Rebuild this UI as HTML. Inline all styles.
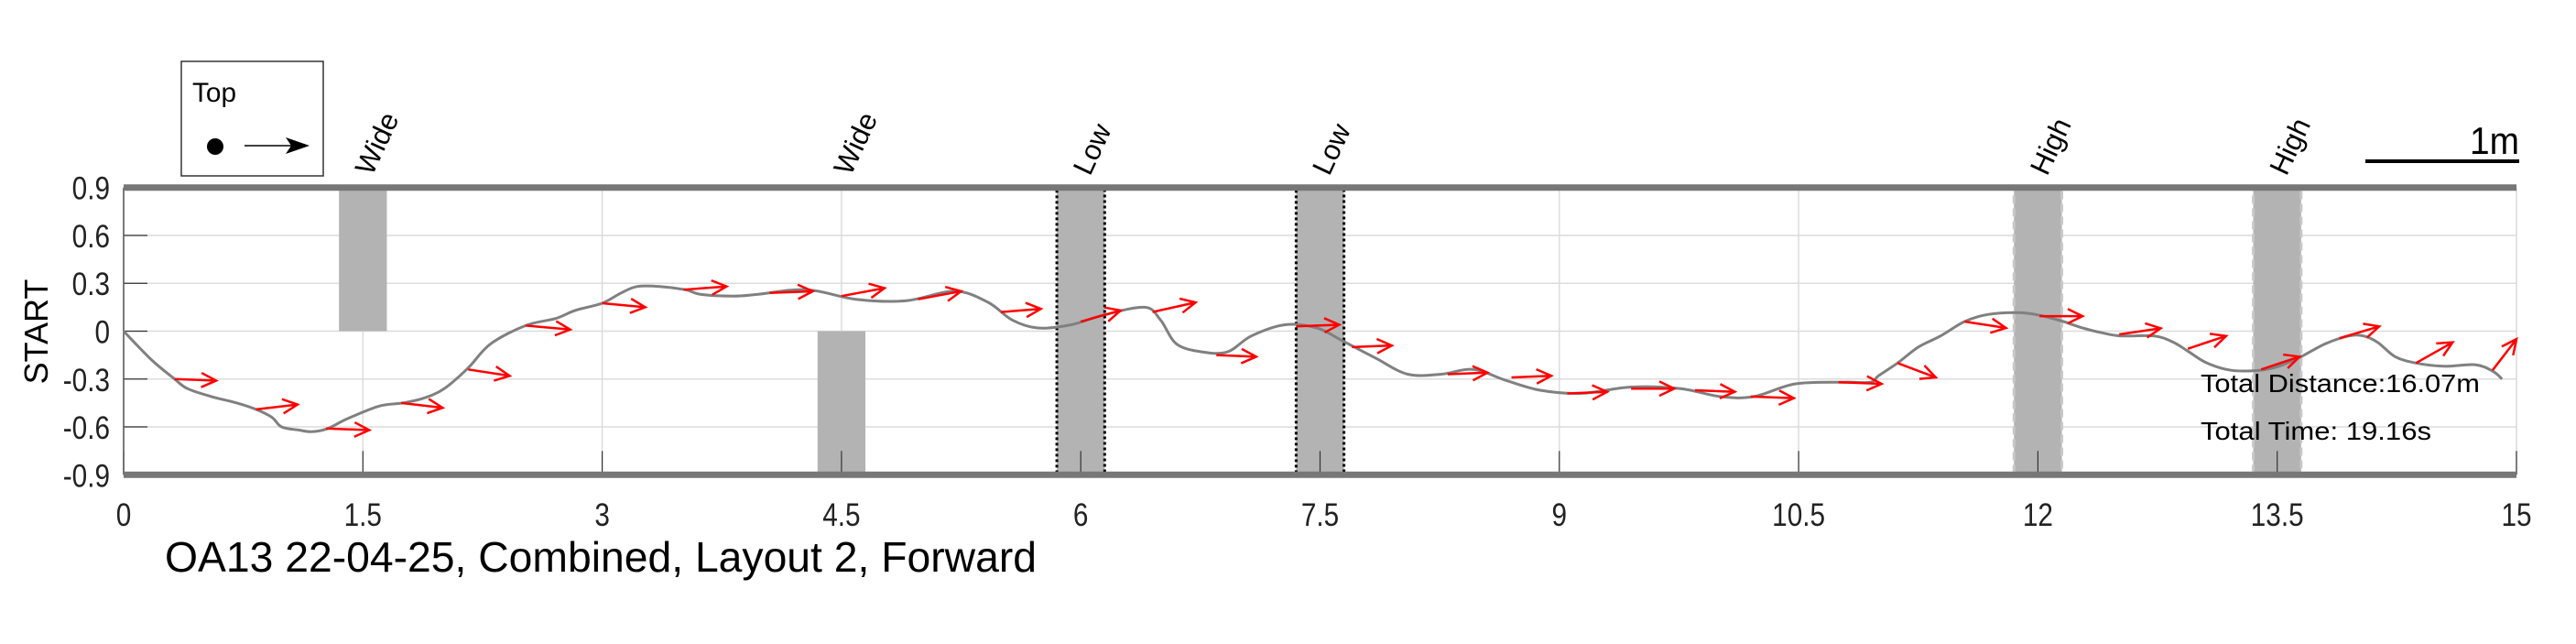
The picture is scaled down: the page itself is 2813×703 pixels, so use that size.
<!DOCTYPE html>
<html><head><meta charset="utf-8"><style>
html,body{margin:0;padding:0;background:#fff;}
svg{display:block;font-family:"Liberation Sans",sans-serif;}
</style></head><body>
<svg id="chart" width="2813" height="703" viewBox="0 0 2813 703" xmlns="http://www.w3.org/2000/svg">
<g id="grid"></g>
<g id="zones"></g>
<g id="axes"></g>
<g id="series"></g>
<g id="arrows"></g>
<text x="0" y="0" transform="translate(52,362) rotate(-90)" font-size="36" text-anchor="middle">START</text>
<text x="180" y="624" font-size="46" textLength="952" lengthAdjust="spacingAndGlyphs">OA13 22-04-25, Combined, Layout 2, Forward</text>
<text x="2403" y="428" font-size="28" textLength="305" lengthAdjust="spacingAndGlyphs">Total Distance:16.07m</text>
<text x="2403" y="480" font-size="28" textLength="252" lengthAdjust="spacingAndGlyphs">Total Time: 19.16s</text>
<g>
<rect x="198" y="67" width="155" height="125" fill="#fff" stroke="#333" stroke-width="1.5"/>
<text x="210" y="111" font-size="30" textLength="48" lengthAdjust="spacingAndGlyphs">Top</text>
<circle cx="235" cy="160" r="9" fill="#000"/>
<line x1="267" y1="159" x2="330" y2="159" stroke="#000" stroke-width="1.5"/>
<path d="M312,150 L338,159 L312,168 L318,159 Z" fill="#000"/>
</g>
<g>
<line x1="2583" y1="176" x2="2751" y2="176" stroke="#000" stroke-width="4"/>
<text x="2751" y="168" font-size="42" text-anchor="end" textLength="54" lengthAdjust="spacingAndGlyphs">1m</text>
</g>
</svg>
<script>
const xTicks = [0, 1.5, 3, 4.5, 6, 7.5, 9, 10.5, 12, 13.5, 15];
const xTickLabels = ["0","1.5","3","4.5","6","7.5","9","10.5","12","13.5","15"];
const yTicks = [0.9, 0.6, 0.3, 0, -0.3, -0.6, -0.9];
const yTickLabels = ["0.9","0.6","0.3","0","-0.3","-0.6","-0.9"];
const zoneNames = ["Wide","Wide","Low","Low","High","High"];
const zoneStart = [1.35, 4.35, 5.85, 7.35, 11.85, 13.35];
const zoneEnd = [1.65, 4.65, 6.15, 7.65, 12.15, 13.65];
const zoneLow = [0, -0.9, -0.9, -0.9, -0.9, -0.9];
const zoneHigh = [0.9, 0, 0.9, 0.9, 0.9, 0.9];
const zoneBorder = ["none","none","dotted","dotted","dashed","dashed"];
const pathX = [0,0.175,0.32,0.40,0.55,0.71,0.83,0.93,0.99,1.1,1.18,1.28,1.4,1.6,1.75,1.88,2.01,2.16,2.3,2.52,2.71,2.83,3.0,3.12,3.22,3.36,3.52,3.62,3.82,3.97,4.28,4.59,4.9,5.21,5.42,5.57,5.73,5.94,6.14,6.4,6.5,6.6,6.76,6.92,7.07,7.28,7.48,7.64,7.85,8.05,8.26,8.46,8.67,8.88,9.14,9.45,9.76,10.01,10.22,10.48,10.79,10.95,11.0,11.12,11.25,11.39,11.54,11.69,11.88,12.01,12.16,12.28,12.4,12.52,12.73,12.85,12.94,13.06,13.21,13.39,13.51,13.64,13.8,13.95,14.04,14.13,14.24,14.37,14.55,14.74,14.85,14.91];
const pathY = [0,-0.18,-0.30,-0.36,-0.41,-0.45,-0.49,-0.54,-0.6,-0.62,-0.63,-0.61,-0.55,-0.47,-0.45,-0.42,-0.36,-0.23,-0.08,0.035,0.08,0.13,0.175,0.24,0.28,0.28,0.26,0.23,0.22,0.23,0.26,0.2,0.19,0.25,0.18,0.07,0.02,0.04,0.10,0.15,0.07,-0.08,-0.13,-0.13,-0.03,0.04,0.02,-0.06,-0.17,-0.27,-0.27,-0.24,-0.31,-0.37,-0.39,-0.35,-0.36,-0.41,-0.41,-0.33,-0.32,-0.32,-0.28,-0.2,-0.1,-0.03,0.06,0.105,0.116,0.1,0.06,0.02,-0.01,-0.03,-0.03,-0.07,-0.125,-0.2,-0.245,-0.245,-0.22,-0.165,-0.08,-0.03,-0.03,-0.07,-0.16,-0.2,-0.22,-0.21,-0.25,-0.3];
const arrowX0 = [0.32,0.83,1.27,1.74,2.16,2.52,3.0,3.51,4.05,4.5,4.98,5.5,6.0,6.45,6.85,7.35,7.7,8.3,8.7,9.05,9.45,9.85,10.2,10.75,11.12,11.54,12.01,12.51,12.94,13.4,13.89,14.37,14.85];
const arrowY0 = [-0.30,-0.49,-0.61,-0.45,-0.24,0.035,0.175,0.26,0.24,0.22,0.2,0.12,0.06,0.12,-0.15,0.03,-0.1,-0.27,-0.29,-0.39,-0.36,-0.37,-0.41,-0.32,-0.2,0.06,0.094,-0.02,-0.11,-0.24,-0.044,-0.2,-0.245];
const arrowX1 = [0.58,1.09,1.54,2.0,2.42,2.8,3.27,3.78,4.32,4.77,5.25,5.75,6.25,6.72,7.1,7.62,7.95,8.55,8.95,9.3,9.72,10.1,10.47,11.02,11.36,11.8,12.28,12.77,13.18,13.64,14.14,14.6,15.0];
const arrowY1 = [-0.31,-0.46,-0.62,-0.48,-0.28,0.01,0.15,0.28,0.25,0.27,0.25,0.14,0.13,0.18,-0.16,0.04,-0.09,-0.26,-0.28,-0.38,-0.36,-0.38,-0.42,-0.33,-0.29,0.02,0.094,0.018,-0.03,-0.16,0.03,-0.07,-0.05];

const NS = "http://www.w3.org/2000/svg";
const X0 = 135, PXU = 174.2, Y0 = 361.5;
function sx(v){ return X0 + v * PXU; }
function sy(v){ return Y0 - v * PXU; }
function mk(tag, attrs, parent){ const e = document.createElementNS(NS, tag); for (const k in attrs) e.setAttribute(k, attrs[k]); parent.appendChild(e); return e; }
const grid = document.getElementById('grid'), axes = document.getElementById('axes'), zones = document.getElementById('zones'), series = document.getElementById('series'), arrows = document.getElementById('arrows');

xTicks.forEach((t, i) => {
  const l = mk('line', {x1: sx(t), x2: sx(t), y1: sy(0.9), y2: sy(-0.9), stroke: '#dcdcdc', 'stroke-width': 1.5}, grid);
  
  
  const tk = mk('line', {x1: sx(t), x2: sx(t), y1: sy(-0.9), y2: sy(-0.9) - 26, stroke: '#333', 'stroke-width': 1.2}, axes);
  
  
  const tx = mk('text', {x: 0, y: 0, 'font-size': 35, 'text-anchor': 'middle', fill: '#222', transform: 'translate(' + sx(t) + ',574) scale(0.85,1)'}, axes);
  tx.textContent = xTickLabels[i];
  
  
});
yTicks.forEach((t, i) => {
  const l = mk('line', {x1: sx(0), x2: sx(15), y1: sy(t), y2: sy(t), stroke: '#dcdcdc', 'stroke-width': 1.5}, grid);
  
  
  const tk = mk('line', {x1: sx(0), x2: sx(0) + 26, y1: sy(t), y2: sy(t), stroke: '#333', 'stroke-width': 1.2}, axes);
  
  
  const tx = mk('text', {x: 0, y: 0, 'font-size': 35, 'text-anchor': 'end', fill: '#222', transform: 'translate(120,' + (sy(t) + 13) + ') scale(0.85,1)'}, axes);
  tx.textContent = yTickLabels[i];
  
  
});
const ax = mk('line', {x1: sx(0), x2: sx(0), y1: sy(0.9), y2: sy(-0.9), stroke: '#555', 'stroke-width': 1.5}, axes);



zoneNames.forEach((n, i) => {
  const x = sx(zoneStart[i]), w = sx(zoneEnd[i]) - x, y = sy(zoneHigh[i]), h = sy(zoneLow[i]) - y;
  const r = mk('rect', {x: x, y: y, width: w, height: h, fill: '#b3b3b3'}, zones);
  
  
  if (zoneBorder[i] === 'dotted') { r.setAttribute('stroke', '#000'); r.setAttribute('stroke-width', '3'); r.setAttribute('stroke-dasharray', '3,3'); }
  if (zoneBorder[i] === 'dashed') { r.setAttribute('stroke', '#c8c8c8'); r.setAttribute('stroke-width', '3'); r.setAttribute('stroke-dasharray', '9,5'); }
  const cx = (sx(zoneStart[i]) + sx(zoneEnd[i])) / 2;
  const t = mk('text', {x: 0, y: 0, 'font-size': 31, transform: 'translate(' + (cx + 10) + ',193) rotate(-65)'}, zones);
  t.textContent = n;
  
  
});

[0.9, -0.9].forEach(v => {
  const b = mk('line', {x1: sx(0), x2: sx(15), y1: sy(v), y2: sy(v), stroke: '#777', 'stroke-width': 7}, axes);
  
  
});

// smooth path (Catmull-Rom)
const pts = pathX.map((v, i) => [sx(v), sy(pathY[i])]);
let d = 'M' + pts[0][0].toFixed(1) + ',' + pts[0][1].toFixed(1);
for (let i = 0; i < pts.length - 1; i++) {
  const p0 = pts[Math.max(0, i - 1)], p1 = pts[i], p2 = pts[i + 1], p3 = pts[Math.min(pts.length - 1, i + 2)];
  const c1 = [p1[0] + (p2[0] - p0[0]) / 6, p1[1] + (p2[1] - p0[1]) / 6];
  const c2 = [p2[0] - (p3[0] - p1[0]) / 6, p2[1] - (p3[1] - p1[1]) / 6];
  d += 'C' + c1[0].toFixed(1) + ',' + c1[1].toFixed(1) + ' ' + c2[0].toFixed(1) + ',' + c2[1].toFixed(1) + ' ' + p2[0].toFixed(1) + ',' + p2[1].toFixed(1);
}
const p = mk('path', {d: d, fill: 'none', stroke: '#808080', 'stroke-width': 3, 'stroke-linejoin': 'round'}, series);



arrowX0.forEach((v, i) => {
  const x0 = sx(v), y0 = sy(arrowY0[i]), x1 = sx(arrowX1[i]), y1 = sy(arrowY1[i]);
  const a = Math.atan2(y1 - y0, x1 - x0), hl = 18, ha = 0.45;
  const g = mk('path', {d: 'M' + x0 + ',' + y0 + 'L' + x1 + ',' + y1 + 'M' + (x1 - hl * Math.cos(a - ha)) + ',' + (y1 - hl * Math.sin(a - ha)) + 'L' + x1 + ',' + y1 + 'L' + (x1 - hl * Math.cos(a + ha)) + ',' + (y1 - hl * Math.sin(a + ha)), fill: 'none', stroke: '#ff0000', 'stroke-width': 2.5}, arrows);
  
  
});
</script>
</body></html>
